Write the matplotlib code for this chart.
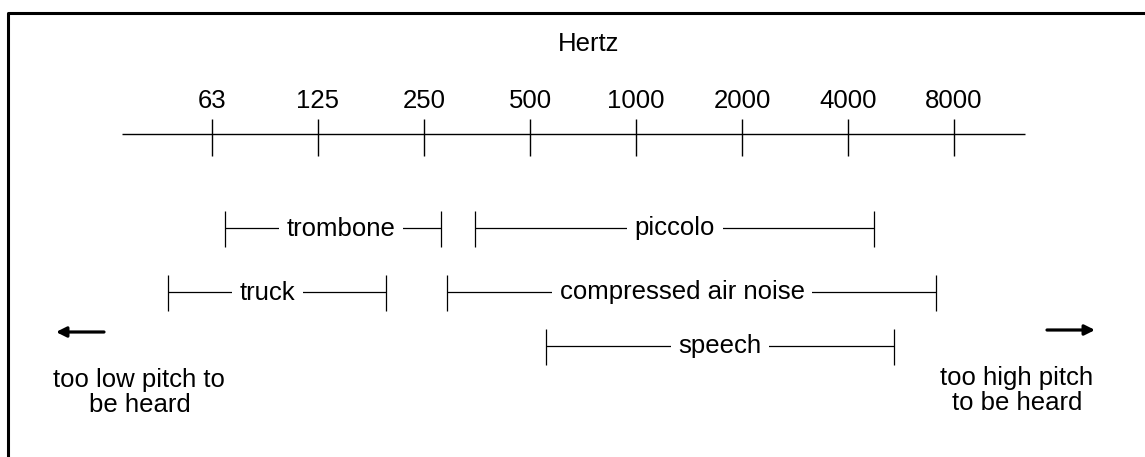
import numpy as np
import matplotlib
matplotlib.use('Agg')
from matplotlib import pyplot as plt
from matplotlib.lines import Line2D

plt.rcParams['font.family'] = ['Liberation Sans', 'DejaVu Sans']

# octave band centres shown on the scale (Hz)
tick_hz = [62.5, 125, 250, 500, 1000, 2000, 4000, 8000]
tick_labels = ['63', '125', '250', '500', '1000', '2000', '4000', '8000']

# sound sources and their frequency ranges (Hz)
sources = ['trombone', 'piccolo', 'truck', 'compressed air noise', 'speech']
low_hz = [68, 350, 47, 290, 555]
high_hz = [280, 4750, 195, 7100, 5400]
source_row = [0, 0, 1, 1, 2]

W, H = 1145, 457
row_y = [228, 292, 346]
label_shift = [8, 0, -10, -9, 0]  # px, labels are not quite centred in the original
FS = 18.5

def fx(x):
	return x / W

def fy(y):
	return 1 - y / H

fig = plt.figure(figsize=(W / 100, H / 100), dpi=100)
ax = fig.add_axes([0, 0, 1, 1])
ax.set_xscale('log', base=2)
# 212 px is the 63 Hz tick, 106 px per octave
ax.set_xlim(62.5 * 2 ** (-212 / 106), 62.5 * 2 ** ((W - 212) / 106))
ax.set_ylim(H, 0)
ax.axis('off')

# frame (only left and top edges visible)
fig.add_artist(Line2D([fx(8), fx(8), fx(W + 5)], [fy(H + 5), fy(13), fy(13)],
	transform=fig.transFigure, color='black', lw=2.2))

# frequency scale
ax.hlines(134, tick_hz[0] * 2 ** -0.85, tick_hz[-1] * 2 ** 0.67, color='black', lw=1.0)
ax.vlines(tick_hz, 119, 156, color='black', lw=1.0)
for f, lab in zip(tick_hz, tick_labels):
	ax.text(f, 108, lab, ha='center', va='baseline', fontsize=FS)
fig.text(fx(589), fy(51), 'Hertz', ha='center', va='baseline', fontsize=FS)

# range bars
for name, lo, hi, r, dx in zip(sources, low_hz, high_hz, source_row, label_shift):
	y = row_y[r]
	ax.hlines(y, lo, hi, color='black', lw=0.9)
	ax.vlines([lo, hi], y - 17, y + 19, color='black', lw=0.9)
	mid = np.sqrt(lo * hi) * 2 ** (dx / 106)
	ax.text(mid, y + 7.5, name, ha='center', va='baseline', fontsize=FS,
		bbox=dict(facecolor='white', edgecolor='none', pad=5.5))

# audibility limits
ax.annotate('', xy=(fx(56), fy(332)), xytext=(fx(104), fy(332)),
	xycoords='figure fraction', textcoords='figure fraction',
	arrowprops=dict(arrowstyle='-|>,head_length=0.6,head_width=0.3', lw=2.3,
		color='black', shrinkA=0, shrinkB=0))
ax.annotate('', xy=(fx(1095), fy(330)), xytext=(fx(1047), fy(330)),
	xycoords='figure fraction', textcoords='figure fraction',
	arrowprops=dict(arrowstyle='-|>,head_length=0.6,head_width=0.3', lw=2.3,
		color='black', shrinkA=0, shrinkB=0))

fig.text(fx(139), fy(387), 'too low pitch to', ha='center', va='baseline', fontsize=FS)
fig.text(fx(140), fy(412), 'be heard', ha='center', va='baseline', fontsize=FS)
fig.text(fx(1017), fy(385), 'too high pitch', ha='center', va='baseline', fontsize=FS)
fig.text(fx(1017), fy(410), 'to be heard', ha='center', va='baseline', fontsize=FS)

fig.savefig('out.png', dpi=100)
